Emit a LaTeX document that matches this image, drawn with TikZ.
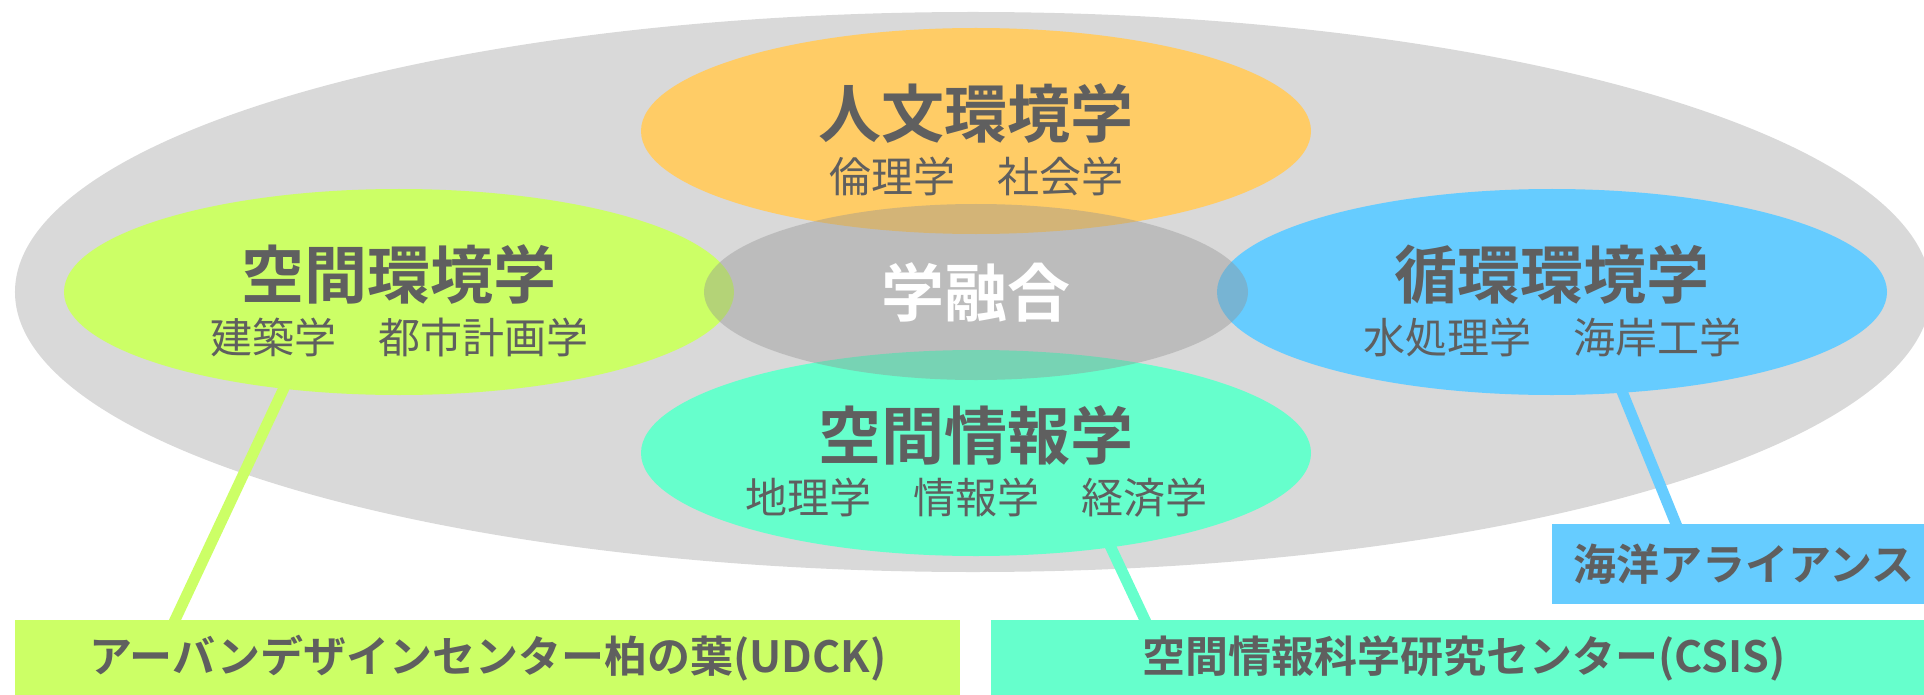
\documentclass[tikz,border=0pt]{standalone}
\usepackage{fontspec}
\setmainfont{Noto Sans CJK JP}[BoldFont={Noto Sans CJK JP Bold}]
\usetikzlibrary{shapes.geometric,calc}
\pgfdeclarelayer{bg}
\pgfsetlayers{bg,main}
\definecolor{fieldgray}{HTML}{D9D9D9}
\definecolor{orangefill}{HTML}{FFCC66}
\definecolor{limefill}{HTML}{CCFF66}
\definecolor{bluefill}{HTML}{66CCFF}
\definecolor{tealfill}{HTML}{66FFCC}
\definecolor{corefill}{HTML}{929292}
\definecolor{ink}{HTML}{5F5F5F}
\begin{document}
\begin{tikzpicture}[x=1bp,y=-1bp,
  field/.style={ellipse, fill=fieldgray, minimum width=1916bp, minimum height=560bp, inner sep=0pt},
  area/.style={ellipse, minimum width=670bp, minimum height=206bp, inner sep=0pt},
  core/.style={ellipse, fill=corefill, fill opacity=0.4, minimum width=544bp, minimum height=176bp, inner sep=0pt},
  title/.style={text=ink, font=\fontsize{63bp}{70bp}\selectfont\bfseries, inner sep=0pt},
  sub/.style={text=ink, font=\fontsize{42bp}{50bp}\selectfont, inner sep=0pt},
  boxlabel/.style={rectangle, anchor=north west, inner sep=0pt, text=ink, font=\fontsize{43bp}{50bp}\selectfont\bfseries},
  link/.style={line width=11bp, shorten <=-10bp, shorten >=-6bp},
]
\useasboundingbox (0,0) rectangle (1924,695);
\begin{pgfonlayer}{bg}
\node[field] (field) at (973,292) {};
\end{pgfonlayer}
\node[area, fill=orangefill] (humanities) at (976,131) {};
\node[area, fill=limefill] (spatialenv) at (399,292) {};
\node[area, fill=bluefill] (circular) at (1552,292) {};
\node[area, fill=tealfill] (spatialinfo) at (976,453) {};
\node[core] (fusion) at (976,292) {};
\node[title, text=white] (fusionlabel) at (fusion.center) {学融合};
\node[title] (t1) at ($(humanities.center)+(0,-18)$) {人文環境学};
\node[sub] (s1) at ($(humanities.center)+(0,45)$) {倫理学　社会学};
\node[title] (t2) at ($(spatialenv.center)+(0,-18)$) {空間環境学};
\node[sub] (s2) at ($(spatialenv.center)+(0,45)$) {建築学　都市計画学};
\node[title] (t3) at ($(circular.center)+(0,-18)$) {循環環境学};
\node[sub] (s3) at ($(circular.center)+(0,45)$) {水処理学　海岸工学};
\node[title] (t4) at ($(spatialinfo.center)+(0,-18)$) {空間情報学};
\node[sub] (s4) at ($(spatialinfo.center)+(0,45)$) {地理学　情報学　経済学};
\node[boxlabel, fill=limefill, minimum width=945bp, minimum height=76bp] (udck) at (15,620) {アーバンデザインセンター柏の葉(UDCK)};
\node[boxlabel, fill=tealfill, minimum width=945bp, minimum height=76bp] (csis) at (991,620) {空間情報科学研究センター(CSIS)};
\node[boxlabel, fill=bluefill, minimum width=384bp, minimum height=80bp] (ocean) at (1552,524) {海洋アライアンス};
\begin{pgfonlayer}{bg}
\draw[link, draw=limefill] (spatialenv.220) -- ($(udck.north west)+(160,0)$);
\draw[link, draw=tealfill] (spatialinfo.325) -- ($(csis.north west)+(154,0)$);
\draw[link, draw=bluefill] (circular.305) -- ($(ocean.north west)+(124,0)$);
\end{pgfonlayer}
\end{tikzpicture}
\end{document}
